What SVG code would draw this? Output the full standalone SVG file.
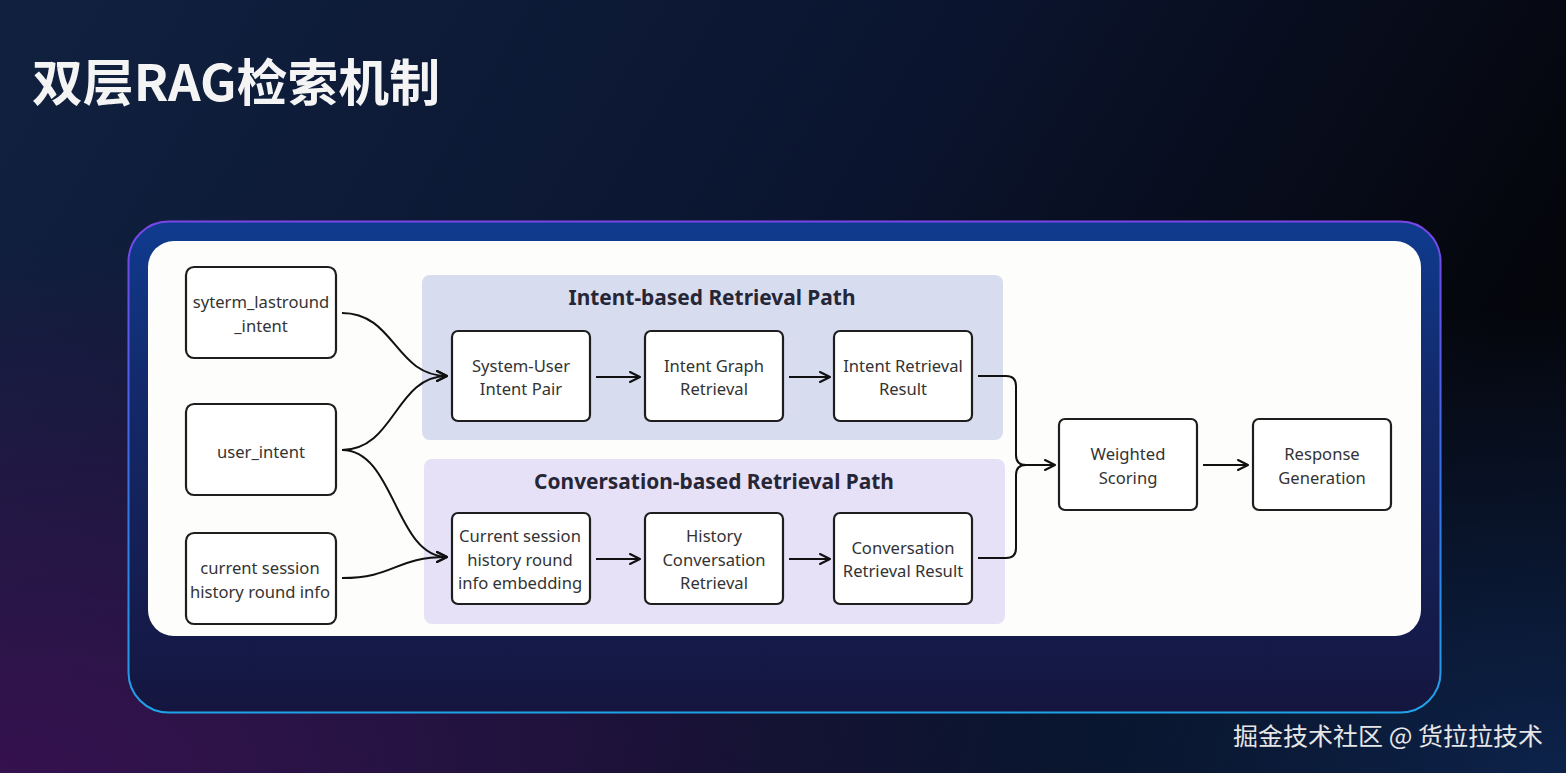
<svg xmlns="http://www.w3.org/2000/svg" width="1566" height="773" viewBox="0 0 1566 773">
<defs>
<linearGradient id="bg" x1="0" y1="0" x2="1" y2="0.3">
<stop offset="0" stop-color="#10213f"/>
<stop offset="0.55" stop-color="#0b1530"/>
<stop offset="1" stop-color="#05060c"/>
</linearGradient>
<radialGradient id="bgPurple" cx="0" cy="1" r="0.7">
<stop offset="0" stop-color="#3a1050" stop-opacity="0.9"/>
<stop offset="1" stop-color="#3a1050" stop-opacity="0"/>
</radialGradient>
<radialGradient id="bgBlue" cx="1" cy="1" r="0.6">
<stop offset="0" stop-color="#0f2a5a" stop-opacity="0.8"/>
<stop offset="1" stop-color="#0f2a5a" stop-opacity="0"/>
</radialGradient>
<linearGradient id="panelStroke" x1="0" y1="0" x2="0" y2="1">
<stop offset="0" stop-color="#7a45e6"/>
<stop offset="0.5" stop-color="#3a6ee8"/>
<stop offset="1" stop-color="#1fa3e8"/>
</linearGradient>
<linearGradient id="panelFill" x1="0" y1="0" x2="0" y2="1">
<stop offset="0" stop-color="#0f3b8f"/>
<stop offset="0.35" stop-color="#13296a"/>
<stop offset="1" stop-color="#15163f"/>
</linearGradient>
<marker id="arr" viewBox="0 0 12 12" refX="11" refY="6" markerWidth="12" markerHeight="12" markerUnits="userSpaceOnUse" orient="auto">
<path d="M1,1 L11,6 L1,11" fill="none" stroke="#111" stroke-width="2" stroke-linecap="round" stroke-linejoin="round"/>
</marker>
<style>
.node rect{fill:#ffffff;stroke:#1e1e1e;stroke-width:2.2}
.lbl{font-family:"Noto Sans","Noto Sans CJK SC",sans-serif;font-size:16.6px;fill:#333;text-anchor:middle}
.gtitle{font-family:"Noto Sans","Noto Sans CJK SC",sans-serif;font-size:20.9px;font-weight:bold;fill:#262636;text-anchor:middle}
.conn path{fill:none;stroke:#111;stroke-width:2;marker-end:url(#arr)}
.conn path.nm{marker-end:none}
</style>
</defs>
<rect x="0" y="0" width="1566" height="773" fill="url(#bg)"/>
<rect x="0" y="0" width="1566" height="773" fill="url(#bgPurple)"/>
<rect x="0" y="0" width="1566" height="773" fill="url(#bgBlue)"/>

<text x="32" y="101" font-family="Noto Sans CJK SC, sans-serif" font-size="50" font-weight="bold" fill="#f4f4f4" textLength="408" lengthAdjust="spacingAndGlyphs">双层RAG检索机制</text>

<rect x="128.5" y="221.5" width="1312" height="491" rx="40" fill="url(#panelFill)" stroke="url(#panelStroke)" stroke-width="2"/>
<rect x="148" y="241" width="1273" height="395" rx="26" fill="#fdfdfb"/>

<g id="group-intent">
<rect x="422" y="275" width="581" height="165" rx="8" fill="#d8dcef"/>
<text class="gtitle" x="712" y="305">Intent-based Retrieval Path</text>
</g>
<g id="group-conversation">
<rect x="424" y="459" width="581" height="165" rx="8" fill="#e6e1f6"/>
<text class="gtitle" x="714" y="489">Conversation-based Retrieval Path</text>
</g>

<g id="n-syterm" class="node">
<rect x="186" y="267" width="150" height="91" rx="8"/>
<text class="lbl" x="261" y="308">syterm_lastround</text>
<text class="lbl" x="261" y="332">_intent</text>
</g>
<g id="n-user" class="node">
<rect x="186" y="404" width="150" height="91" rx="8"/>
<text class="lbl" x="261" y="458">user_intent</text>
</g>
<g id="n-current" class="node">
<rect x="186" y="533" width="150" height="91" rx="8"/>
<text class="lbl" x="260" y="574">current session</text>
<text class="lbl" x="260" y="598">history round info</text>
</g>

<g id="n-sysuser" class="node">
<rect x="452" y="331" width="138" height="90" rx="6"/>
<text class="lbl" x="521" y="372">System-User</text>
<text class="lbl" x="521" y="395">Intent Pair</text>
</g>
<g id="n-graph" class="node">
<rect x="645" y="331" width="138" height="90" rx="6"/>
<text class="lbl" x="714" y="372">Intent Graph</text>
<text class="lbl" x="714" y="395">Retrieval</text>
</g>
<g id="n-intres" class="node">
<rect x="834" y="331" width="138" height="90" rx="6"/>
<text class="lbl" x="903" y="372">Intent Retrieval</text>
<text class="lbl" x="903" y="395">Result</text>
</g>

<g id="n-embed" class="node">
<rect x="452" y="513" width="138" height="91" rx="6"/>
<text class="lbl" x="520" y="542">Current session</text>
<text class="lbl" x="520" y="566">history round</text>
<text class="lbl" x="520" y="589">info embedding</text>
</g>
<g id="n-histconv" class="node">
<rect x="645" y="513" width="138" height="91" rx="6"/>
<text class="lbl" x="714" y="542">History</text>
<text class="lbl" x="714" y="566">Conversation</text>
<text class="lbl" x="714" y="589">Retrieval</text>
</g>
<g id="n-convres" class="node">
<rect x="834" y="513" width="138" height="91" rx="6"/>
<text class="lbl" x="903" y="554">Conversation</text>
<text class="lbl" x="903" y="577">Retrieval Result</text>
</g>

<g id="n-weighted" class="node">
<rect x="1059" y="419" width="138" height="91" rx="6"/>
<text class="lbl" x="1128" y="460">Weighted</text>
<text class="lbl" x="1128" y="484">Scoring</text>
</g>
<g id="n-response" class="node">
<rect x="1253" y="419" width="138" height="91" rx="6"/>
<text class="lbl" x="1322" y="460">Response</text>
<text class="lbl" x="1322" y="484">Generation</text>
</g>

<g id="connectors" class="conn">
<path d="M342,313 C395,313 395,376 447,376"/>
<path d="M342,450 C395,450 395,376 447,376"/>
<path d="M342,450 C395,450 395,557 447,557"/>
<path d="M342,578 C395,578 395,557 447,557"/>
<path d="M596,377 L640,377"/>
<path d="M789,377 L830,377"/>
<path d="M596,559 L640,559"/>
<path d="M789,559 L830,559"/>
<path class="nm" d="M978,376 L1006,376 Q1016,376 1016,386 L1016,455 Q1016,465 1026,465"/>
<path d="M978,558 L1006,558 Q1016,558 1016,548 L1016,475 Q1016,465 1026,465 L1055,465"/>
<path d="M1203,465 L1248,465"/>
</g>

<text x="1233" y="745" font-family="Noto Sans CJK SC, sans-serif" font-size="24" fill="#e6e6e6" textLength="310" lengthAdjust="spacingAndGlyphs">掘金技术社区 @ 货拉拉技术</text>
</svg>
